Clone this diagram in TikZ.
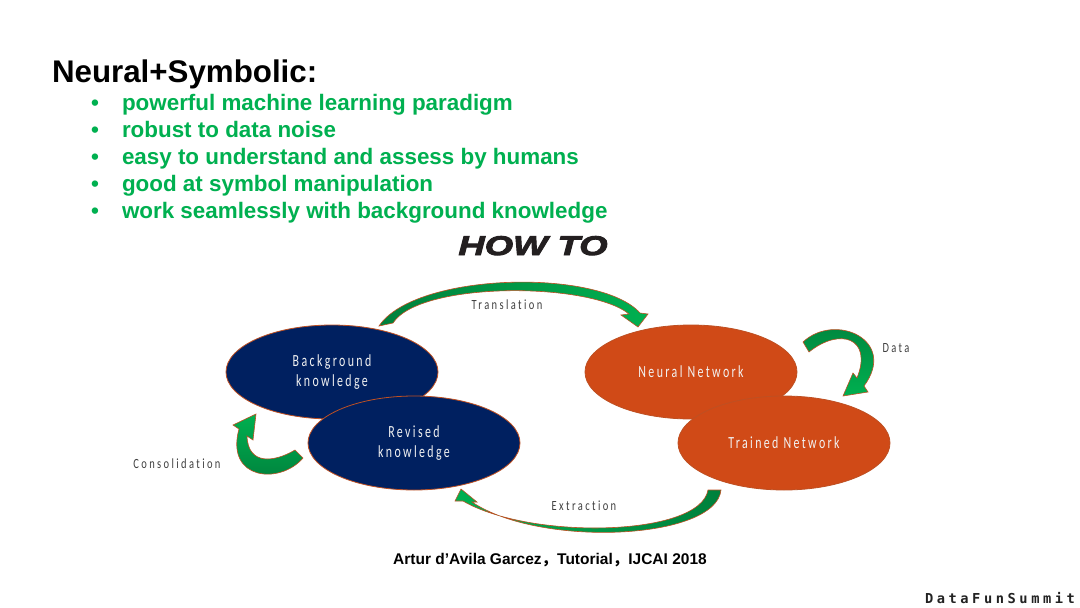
\documentclass[tikz,border=0pt]{standalone}
\usepackage{fontspec}
\setmainfont{Liberation Sans}
\newfontfamily\inlblfont{Carlito}[FakeStretch=0.7, LetterSpace=14, Ligatures=NoCommon]
\newfontfamily\outlblfont{Carlito}[FakeStretch=0.75, LetterSpace=17, Ligatures=NoCommon]
\newfontfamily\howfont{Liberation Sans}[FakeStretch=1.35, FakeBold=3.5]
\newfontfamily\brandfont{DejaVu Sans Mono}[LetterSpace=26]
\newfontfamily\cjk{Noto Sans CJK SC}
\usetikzlibrary{shapes.geometric}

\definecolor{nsgreen}{RGB}{0,176,80}
\definecolor{nsnavy}{RGB}{0,32,96}
\definecolor{nsorange}{RGB}{208,74,23}
\definecolor{nsedge}{RGB}{190,80,35}
\definecolor{nsgray}{RGB}{64,64,64}
\definecolor{nsdark}{RGB}{0,128,60}
\definecolor{nslight}{RGB}{0,176,80}
\definecolor{nslbl}{RGB}{242,242,242}
\definecolor{nshow}{RGB}{35,31,32}
\definecolor{nsbrand}{RGB}{34,34,34}

\begin{document}
\begin{tikzpicture}[
  x=1pt,
  y=-1pt,
  every node/.style={inner sep=0pt, outer sep=0pt},
  nsTitle/.style={font=\fontsize{31.3}{36}\selectfont\bfseries, text=black, anchor=base west},
  nsItem/.style={font=\fontsize{22.4}{26}\selectfont\bfseries, text=nsgreen, anchor=base west},
  nsHow/.style={font=\howfont\fontsize{27}{30}\selectfont\bfseries\itshape, text=nshow, anchor=base},
  nsEll/.style={ellipse, draw=nsedge, line width=0.8pt, minimum width=212pt, minimum height=94pt,
    align=center, text=nslbl, font=\inlblfont\fontsize{17}{20}\selectfont},
  nsBlue/.style={nsEll, fill=nsnavy},
  nsRed/.style={nsEll, fill=nsorange},
  nsTag/.style={font=\outlblfont\fontsize{14}{16}\selectfont, text=nsgray},
  nsArrow/.style={draw=nsedge, line width=0.6pt},
  nsCite/.style={font=\fontsize{15.5}{18}\selectfont\bfseries, text=black, anchor=base},
  nsBrand/.style={font=\brandfont\fontsize{13.7}{16}\selectfont\bfseries, text=nsbrand, anchor=base west}
]

  \path[use as bounding box, fill=white] (0,0) rectangle (1080,608);

  \node[nsTitle] (title) at (52,82) {Neural+Symbolic:};

  \foreach \txt [count=\i] in {powerful machine learning paradigm, robust to data noise,
    easy to understand and assess by humans, good at symbol manipulation,
    work seamlessly with background knowledge}{
    \node[nsItem] (dot\i) at (91,83+27*\i) {•};
    \node[nsItem] (item\i) at (122,83+27*\i) {\txt};
  }

  \node[nsHow] (howto) at (533,255) {HOW TO};

  % knowledge side
  \node[nsBlue] (bgk) at (332,372) {Background\\knowledge};
  \node[nsBlue] (rvk) at (414,443) {Revised\\knowledge};

  % network side
  \node[nsRed] (nnet) at (691,372) {Neural Network};
  \node[nsRed] (tnet) at (784,443) {Trained Network};

  % curved block arrows
  \path[nsArrow, left color=nsdark, right color=nslight]
    (379,326) .. controls (415,272) and (600,268) .. (640,313)
    -- (648,314) -- (638,327) -- (621,315) -- (629,314)
    .. controls (590,282) and (420,281) .. (393,323) -- cycle;

  \path[nsArrow, top color=nsdark, bottom color=nslight]
    (803,342) .. controls (835,312) and (898,340) .. (864,386)
    -- (868,392) -- (843,396) -- (853,373) -- (857,378)
    .. controls (873,338) and (840,327) .. (809,352) -- cycle;

  \path[nsArrow, left color=nslight, right color=nsdark]
    (708,490) -- (721,490) .. controls (716,540) and (540,548) .. (472,502)
    -- (477,502) -- (461,489) -- (455,501) -- (463,501)
    .. controls (530,540) and (700,537) .. (708,490) -- cycle;

  \path[nsArrow, top color=nslight, bottom color=nsdark]
    (295,450) -- (303,458) .. controls (280,485) and (225,480) .. (239,429)
    -- (233,425) -- (256,414) -- (253,440) -- (247,436)
    .. controls (248,466) and (275,462) .. (295,450) -- cycle;

  \node[nsTag] (trans) at (507,305) {Translation};
  \node[nsTag] (data) at (896,348) {Data};
  \node[nsTag] (consol) at (177,464) {Consolidation};
  \node[nsTag] (extr) at (584,506) {Extraction};

  \node[nsCite] (cite) at (550,564) {Artur d’Avila Garcez{\cjk ，}Tutorial{\cjk ，}IJCAI 2018};
  \node[nsBrand] (brand) at (925,603) {DataFunSummit};

\end{tikzpicture}
\end{document}
